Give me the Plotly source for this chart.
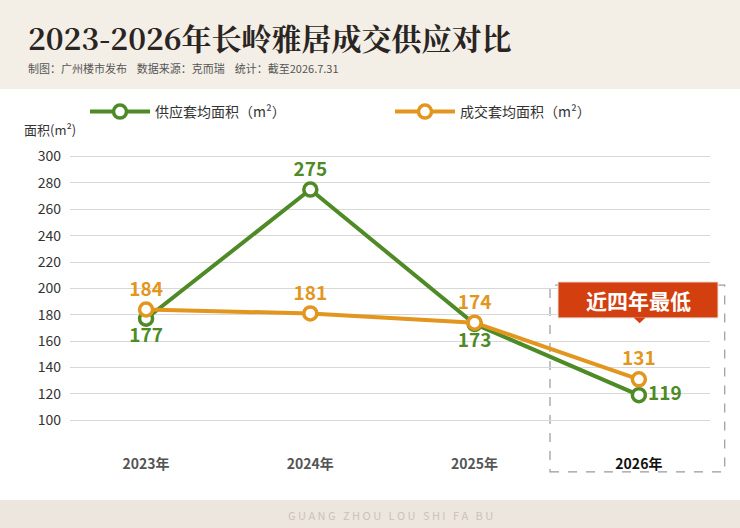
import plotly.graph_objects as go

years = ["2023年", "2024年", "2025年", "2026年"]
supply = [177, 275, 173, 119]
deal = [184, 181, 174, 131]
y_ticks = [100, 120, 140, 160, 180, 200, 220, 240, 260, 280, 300]

GREEN = "#4E8A25"
ORANGE = "#E3961E"
FONT = "Noto Sans CJK SC"

x = list(range(len(years)))
fig = go.Figure()

fig.add_trace(go.Scatter(
    x=x, y=supply, mode="lines+markers+text", name="供应套均面积（m²）",
    line=dict(color=GREEN, width=4),
    marker=dict(size=13, color="white", line=dict(color=GREEN, width=3.5)),
    text=[f"<b>{v}</b>" for v in supply],
    textposition=["bottom center", "top center", "bottom center", "middle right"],
    textfont=dict(size=19, color=GREEN, family=FONT),
))
fig.add_trace(go.Scatter(
    x=x, y=deal, mode="lines+markers+text", name="成交套均面积（m²）",
    line=dict(color=ORANGE, width=4),
    marker=dict(size=13, color="white", line=dict(color=ORANGE, width=3.5)),
    text=[f"<b>{v}</b>" for v in deal],
    textposition="top center",
    textfont=dict(size=19, color=ORANGE, family=FONT),
))

# header band and footer band (paper coords: y=(440-py)/290, x=(px-70)/640)
fig.add_shape(type="rect", xref="paper", yref="paper", x0=-0.12, x1=1.06,
              y0=1.21, y1=1.53, fillcolor="#F3EEE6", line_width=0, layer="below")
fig.add_shape(type="rect", xref="paper", yref="paper", x0=-0.12, x1=1.06,
              y0=-0.31, y1=-0.207, fillcolor="#EDE6DE", line_width=0, layer="below")

# callout dashed box
fig.add_shape(type="rect", xref="paper", yref="paper", x0=0.75, x1=1.023, y0=-0.11, y1=0.534,
              line=dict(color="#999", width=1.2, dash="dash"), layer="below")
fig.add_shape(type="rect", xref="paper", yref="paper", x0=0.7625, x1=1.0125, y0=0.421, y1=0.545,
              fillcolor="#D43F10", line=dict(color="#E8E0D8", width=1))
fig.add_shape(type="path", path="M 0.8806 0.422 L 0.89 0.403 L 0.8994 0.422 Z",
              xref="paper", yref="paper", fillcolor="#D43F10", line_width=0)

def note(x, y, text, size, color, xanchor="center", family=FONT):
    fig.add_annotation(x=x, y=y, xref="paper", yref="paper", text=text, showarrow=False,
                       xanchor=xanchor, yanchor="middle",
                       font=dict(size=size, color=color, family=family))

note(0.8875, 0.483, "<b>近四年最低</b>", 21, "white")
note(-0.068, 1.39, "<b>2023-2026年长岭雅居成交供应对比</b>", 30, "#2A2522", "left",
     "Noto Serif CJK SC, " + FONT)
note(-0.068, 1.282, "制图：广州楼市发布    数据来源：克而瑞    统计：截至2026.7.31", 11, "#555", "left")
note(-0.075, 1.069, "面积(m²)", 13, "#333", "left")
note(0.5, -0.259, "G U A N G   Z H O U   L O U   S H I   F A   B U", 11, "#C9C2BA")

fig.update_xaxes(
    range=[-0.463, 3.433], tickvals=x,
    ticktext=[f"<b>{y}</b>" for y in years[:3]] + [f"<b><span style='color:#111'>{years[3]}</span></b>"],
    tickfont=dict(size=14, color="#555", family=FONT),
    showgrid=False, zeroline=False, showline=False, ticks="", ticklabelstandoff=14,
)
fig.update_yaxes(
    range=[85, 305], tickvals=y_ticks,
    tickfont=dict(size=14, color="#333", family=FONT),
    showgrid=True, gridcolor="#D8D8D8", gridwidth=1, zeroline=False, showline=False,
    ticklabelstandoff=8,
)
fig.update_layout(
    width=740, height=528,
    margin=dict(l=70, r=30, t=150, b=88),
    plot_bgcolor="white", paper_bgcolor="white",
    font=dict(family=FONT),
    showlegend=True,
    legend=dict(orientation="h", x=0.5, xanchor="center", y=1.131, yanchor="middle",
                bgcolor="rgba(0,0,0,0)",
                font=dict(size=14, color="#333", family=FONT), itemwidth=60,
                entrywidth=230),
)

fig.write_html("out.html", config={"displayModeBar": False},
               post_script="document.body.style.margin='0';")
